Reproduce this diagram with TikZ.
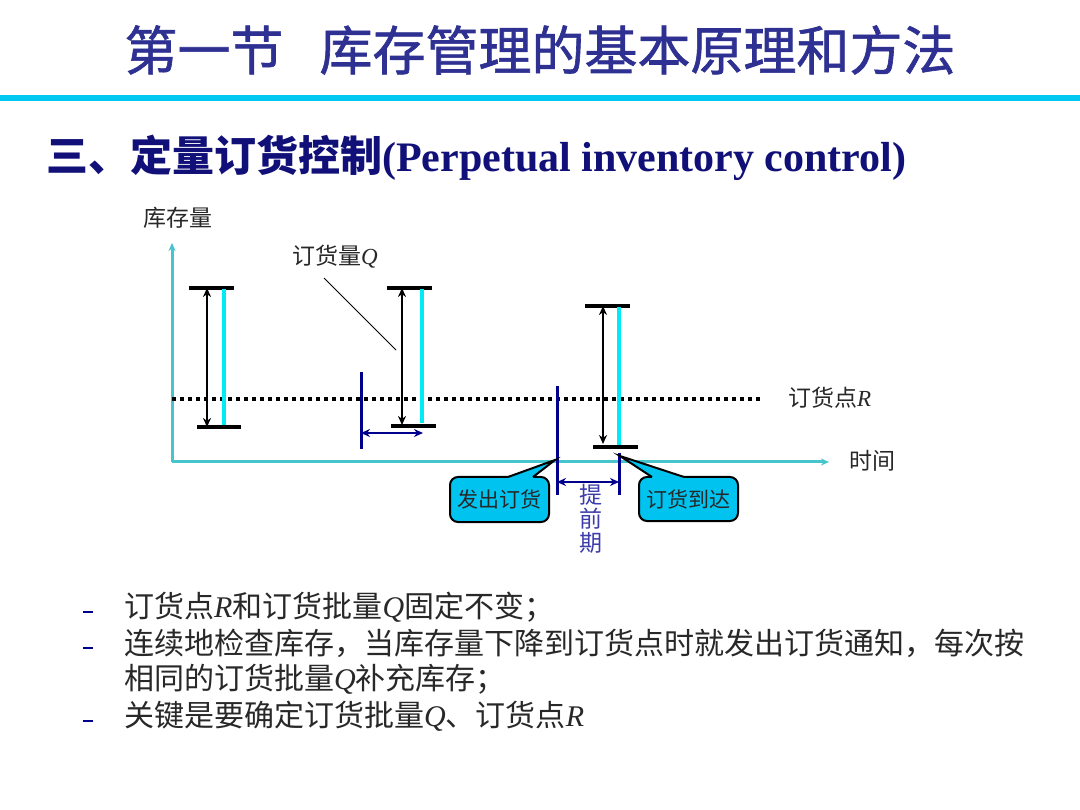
\documentclass[tikz,border=0pt]{standalone}
\usepackage{fontspec}
\setmainfont{Liberation Serif}
\newfontfamily\cjk{Noto Sans CJK SC}
\newfontfamily\cjktitle[FakeBold=1.2]{Noto Sans CJK SC}
\usetikzlibrary{arrows.meta}
\definecolor{titleblue}{RGB}{46,49,146}
\definecolor{subblue}{RGB}{16,16,120}
\definecolor{rulecyan}{RGB}{0,200,240}
\definecolor{axisteal}{RGB}{72,196,204}
\definecolor{barcyan}{RGB}{0,235,245}
\definecolor{mynavy}{RGB}{0,0,140}
\definecolor{calloutfill}{RGB}{0,195,240}
\definecolor{leadblue}{RGB}{60,60,170}
\definecolor{textgray}{RGB}{40,40,40}
\newcommand\lat[1]{{\rmfamily\itshape #1}}
\tikzset{
  axisline/.style={draw=axisteal, line width=3pt, -{Stealth[length=8pt,width=7pt]}},
  qbar/.style={draw=black, line width=3.5pt},
  qarrow/.style={draw=black, line width=2.8pt, {Stealth[length=9pt,width=8pt]}-{Stealth[length=9pt,width=8pt]}},
  cyanbar/.style={draw=barcyan, line width=4.5pt},
  bluemark/.style={draw=mynavy, line width=3pt},
  bluearrow/.style={draw=mynavy, line width=2.8pt, {Stealth[length=9pt,width=8pt]}-{Stealth[length=9pt,width=8pt]}},
  reorder/.style={draw=black, line width=3.5pt, dash pattern=on 3.5pt off 4.5pt},
  lbl/.style={text=textgray, font=\cjk\fontsize{23}{26}\selectfont, inner sep=0pt},
  callbox/.style={draw=black, line width=2pt, fill=calloutfill, rounded corners=8pt},
  calltext/.style={text=textgray, font=\cjk\fontsize{21}{24}\selectfont, inner sep=0pt},
  bullettext/.style={text=textgray, font=\cjk\fontsize{30}{34}\selectfont, inner sep=0pt, anchor=west},
  bulletdash/.style={fill=mynavy, minimum width=10pt, minimum height=2pt, inner sep=0pt},
}
\begin{document}
\begin{tikzpicture}[x=1pt,y=-1pt]
\useasboundingbox[fill=white] (0,0) rectangle (1080,810);

% title
\node[text=titleblue, font=\cjktitle\fontsize{53}{60}\selectfont, inner sep=0pt] (title) at (540,50) {第一节\hspace{36pt}库存管理的基本原理和方法};
\fill[rulecyan] (0,95) rectangle (1080,101);

% subtitle
\node[anchor=west, text=subblue, font=\cjk\bfseries\fontsize{42}{50}\selectfont, inner sep=0pt] (sub) at (46,158) {三、定量订货控制{\rmfamily\bfseries(Perpetual inventory control)}};

% axes
\coordinate (O) at (172,462);
\coordinate (ytop) at (172,243);
\coordinate (xend) at (829,462);
\draw[axisline] (O) -- (ytop);
\draw[axisline] (O) -- (xend);
\node[lbl] (ylab) at (178,218) {库存量};
\node[lbl] (xlab) at (872,461) {时间};

% reorder point line
\coordinate (r1) at (172,399);
\coordinate (r2) at (762,399);
\draw[reorder] (r1) -- (r2);
\node[lbl, anchor=west] (rlab) at (788,398) {订货点\lat{R}};

% group 1
\coordinate (a1t) at (207,288); \coordinate (a1b) at (207,427);
\draw[qbar] (189,288) -- (234,288);
\draw[qbar] (197,427) -- (241,427);
\draw[cyanbar] (224,289) -- (224,425);
\draw[qarrow] (a1t) -- (a1b);

% group 2
\coordinate (a2t) at (402,288); \coordinate (a2b) at (402,425);
\draw[qbar] (387,288) -- (432,288);
\draw[qbar] (391,426) -- (436,426);
\draw[cyanbar] (422,289) -- (422,423);
\draw[qarrow] (a2t) -- (a2b);
\coordinate (o2a) at (361,372); \coordinate (o2b) at (361,449);
\draw[bluemark] (o2a) -- (o2b);
\coordinate (l2a) at (361,433); \coordinate (l2b) at (423,433);
\draw[bluearrow] (l2a) -- (l2b);

% Q label
\node[lbl] (qlab) at (335,257) {订货量\lat{Q}};
\coordinate (qp1) at (324,278); \coordinate (qp2) at (396,350);
\draw[black, line width=1pt] (qp1) -- (qp2);

% group 3
\coordinate (a3t) at (603,306); \coordinate (a3b) at (603,444);
\draw[qbar] (585,306) -- (630,306);
\draw[qbar] (593,447) -- (638,447);
\draw[cyanbar] (619,307) -- (619,445);
\draw[qarrow] (a3t) -- (a3b);
\coordinate (o3a) at (557,386); \coordinate (o3b) at (557,495);
\draw[bluemark] (o3a) -- (o3b);
\coordinate (arr3a) at (619,453); \coordinate (arr3b) at (619,495);
\draw[bluemark] (arr3a) -- (arr3b);
\coordinate (lt1) at (557,482); \coordinate (lt2) at (619,482);
\draw[bluearrow] (lt1) -- (lt2);
\node[text=leadblue, font=\cjk\fontsize{23}{24}\selectfont, align=center, inner sep=0pt] (lead) at (591,519) {提\\前\\期};

% callout 1
\node[callbox, minimum width=99pt, minimum height=45pt, inner sep=0pt] (c1) at (499.5,499.5) {};
\node[calltext] (c1t) at (c1) {发出订货};
\coordinate (t1) at (555,460);
\coordinate (b1l) at (508,477); \coordinate (b1r) at (533,477);
\fill[calloutfill] (b1l) -- (t1) -- (b1r) -- (533,481) -- (508,481) -- cycle;
\draw[black, line width=2pt, line join=miter] (b1l) -- (t1) -- (b1r);

% callout 2
\node[callbox, minimum width=99pt, minimum height=44pt, inner sep=0pt] (c2) at (688.5,499) {};
\node[calltext] (c2t) at (c2) {订货到达};
\coordinate (t2) at (620,456);
\coordinate (b2l) at (652,477); \coordinate (b2r) at (684,477);
\fill[calloutfill] (b2l) -- (t2) -- (b2r) -- (684,481) -- (652,481) -- cycle;
\draw[black, line width=2pt, line join=miter] (b2l) -- (t2) -- (b2r);

% bullets
\node[bulletdash] (d1) at (88,612) {};
\node[bulletdash] (d2) at (88,648) {};
\node[bulletdash] (d4) at (88,721) {};
\node[bullettext] (l1) at (124,607) {订货点\lat{R}和订货批量\lat{Q}固定不变；};
\node[bullettext] (l2) at (124,643) {连续地检查库存，当库存量下降到订货点时就发出订货通知，每次按};
\node[bullettext] (l3) at (124,679) {相同的订货批量\lat{Q}补充库存；};
\node[bullettext] (l4) at (124,716) {关键是要确定订货批量\lat{Q}、订货点\lat{R}};
\end{tikzpicture}
\end{document}
